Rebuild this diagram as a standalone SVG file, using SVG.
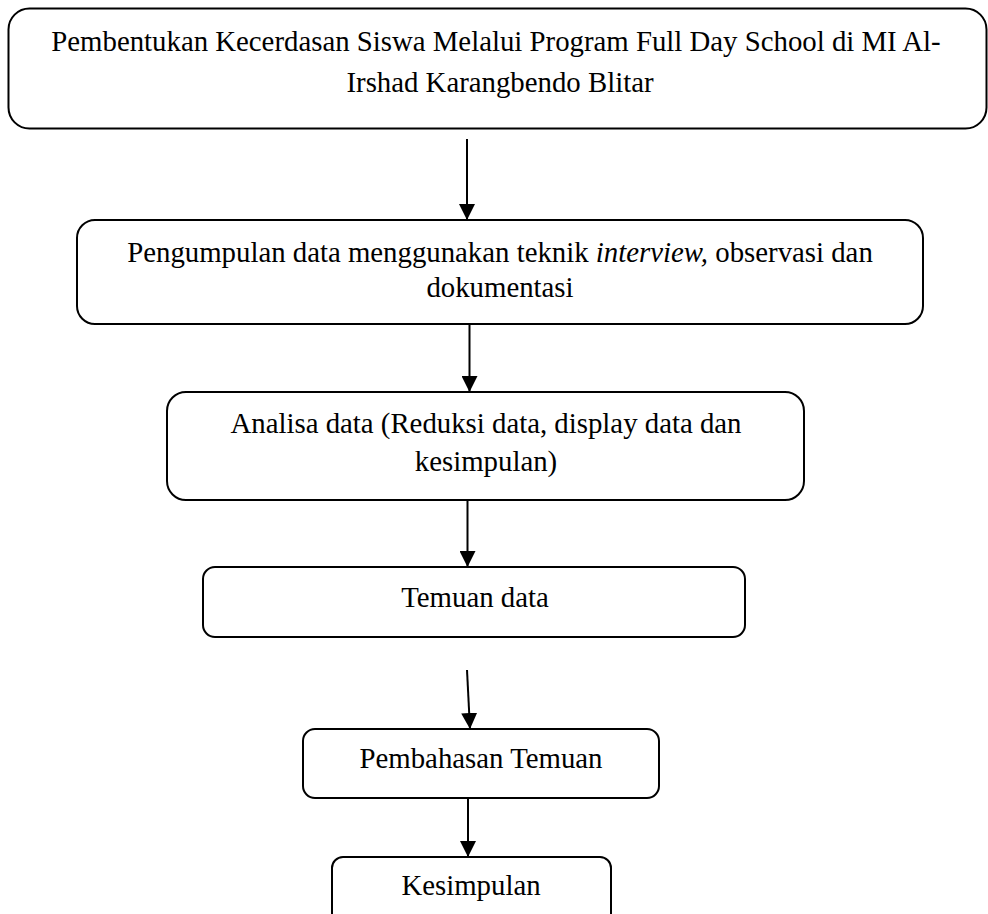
<svg xmlns="http://www.w3.org/2000/svg" width="988" height="914" viewBox="0 0 988 914">
<style>
.box{fill:#fff;stroke:#000;stroke-width:2}
.t{font-family:"Liberation Serif","Times New Roman",serif;font-size:28.8px;fill:#000;text-anchor:middle}
.c{fill:none;stroke:#000;stroke-width:2}
</style>
<defs>
<marker id="ah" markerUnits="userSpaceOnUse" viewBox="0 0 16 16" markerWidth="16" markerHeight="16" refX="16" refY="8" orient="auto">
<path d="M0,0 L16,8 L0,16 z" fill="#000"/>
</marker>
</defs>
<rect width="988" height="914" fill="#fff"/>
<g id="connectors">
<line class="c" x1="467" y1="139" x2="467" y2="220" marker-end="url(#ah)"/>
<line class="c" x1="469.5" y1="324" x2="469.5" y2="392" marker-end="url(#ah)"/>
<line class="c" x1="467.5" y1="500" x2="467.5" y2="567" marker-end="url(#ah)"/>
<line class="c" x1="467" y1="670" x2="470" y2="729" marker-end="url(#ah)"/>
<line class="c" x1="468" y1="798" x2="468" y2="857" marker-end="url(#ah)"/>
</g>
<g id="node1">
<rect class="box" x="8.5" y="8.5" width="978" height="120" rx="21" ry="21"/>
<text class="t" x="496" y="51">Pembentukan Kecerdasan Siswa Melalui Program Full Day School di MI Al-</text>
<text class="t" x="500" y="92">Irshad Karangbendo Blitar</text>
</g>
<g id="node2">
<rect class="box" x="77" y="220" width="846" height="104" rx="18" ry="18"/>
<text class="t" x="500" y="262">Pengumpulan data menggunakan teknik <tspan font-style="italic">interview,</tspan> observasi dan</text>
<text class="t" x="500" y="297">dokumentasi</text>
</g>
<g id="node3">
<rect class="box" x="167" y="392" width="637" height="108" rx="19" ry="19"/>
<text class="t" x="486" y="433">Analisa data (Reduksi data, display data dan</text>
<text class="t" x="486" y="471">kesimpulan)</text>
</g>
<g id="node4">
<rect class="box" x="203" y="567" width="542" height="70" rx="12" ry="12"/>
<text class="t" x="475" y="607">Temuan data</text>
</g>
<g id="node5">
<rect class="box" x="303" y="729" width="356" height="69" rx="12" ry="12"/>
<text class="t" x="481" y="768">Pembahasan Temuan</text>
</g>
<g id="node6">
<rect class="box" x="332" y="857" width="279" height="72" rx="11" ry="11"/>
<text class="t" x="471" y="895">Kesimpulan</text>
</g>
</svg>
